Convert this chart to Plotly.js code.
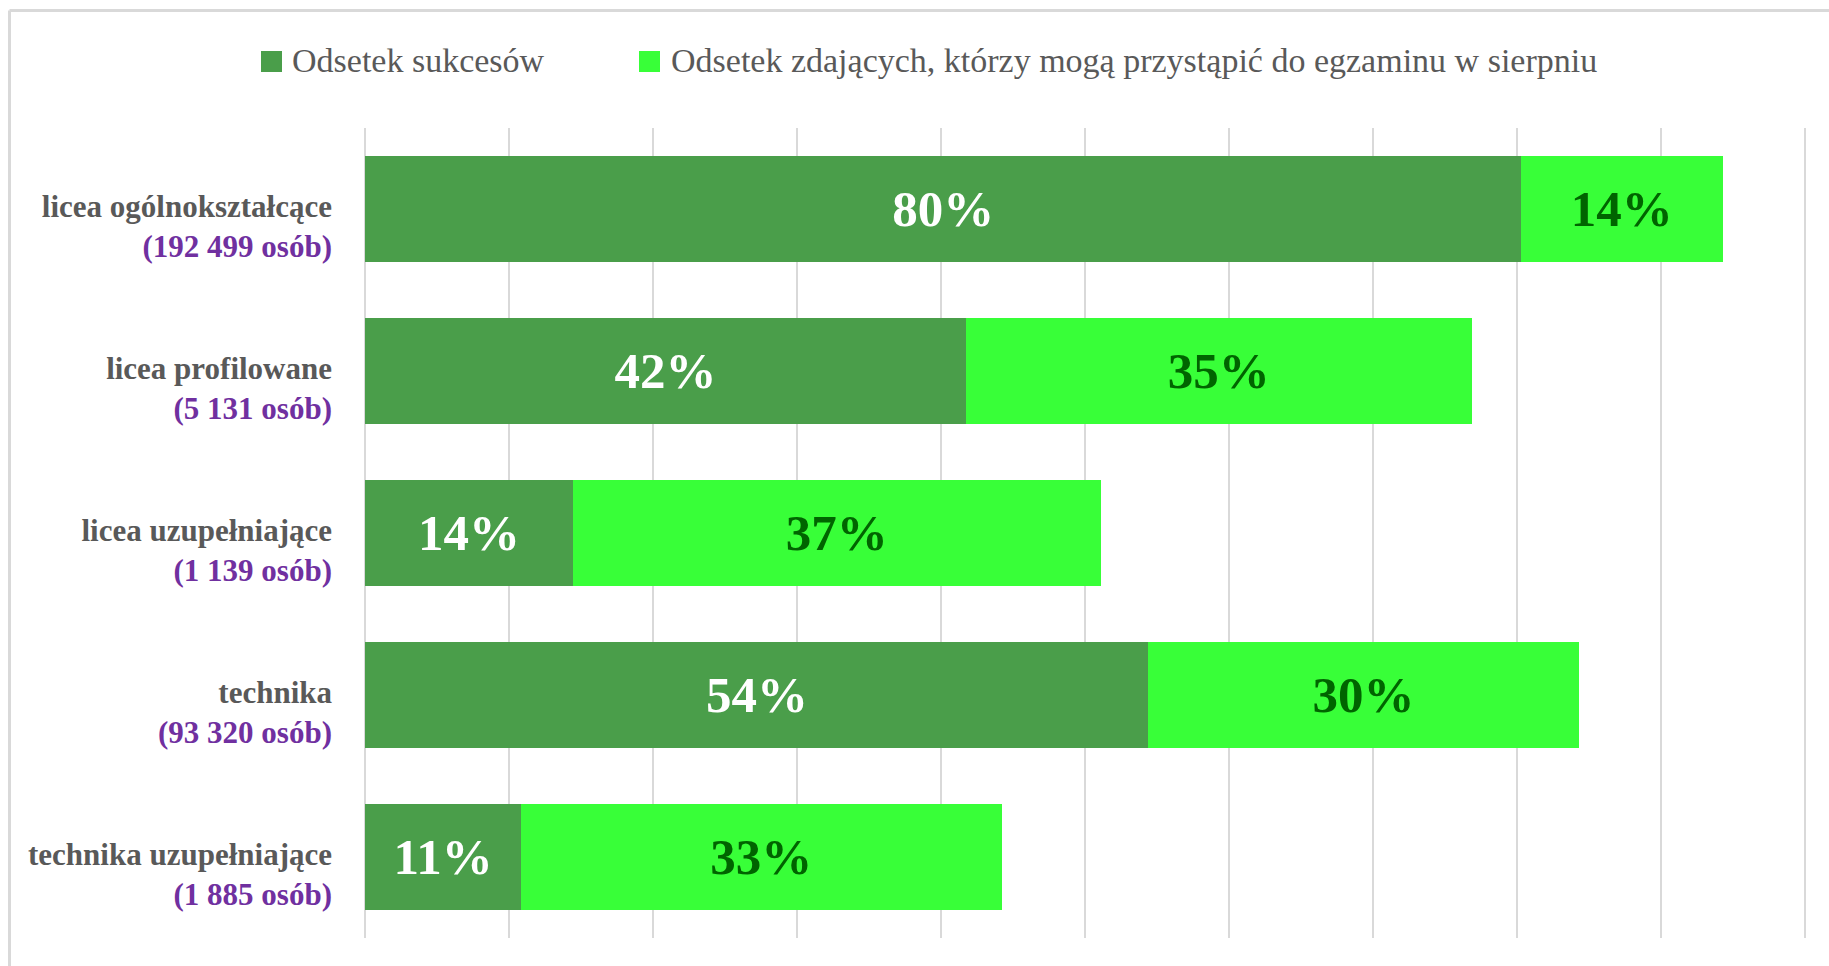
<!DOCTYPE html>
<html>
<head>
<meta charset="utf-8">
<script src="https://cdn.plot.ly/plotly-3.0.1.min.js"></script>
<style>html,body{margin:0;padding:0;background:#fff;}#chart{width:1829px;height:966px;}</style>
</head>
<body>
<div id="chart"></div>
<script>
// ---- data ----
const categories = ['licea ogólnokształcące', 'licea profilowane', 'licea uzupełniające', 'technika', 'technika uzupełniające'];
const counts = ['192 499 osób', '5 131 osób', '1 139 osób', '93 320 osób', '1 885 osób'];
const seriesNames = ['Odsetek sukcesów', 'Odsetek zdających, którzy mogą przystąpić do egzaminu w sierpniu'];
const successPct = [80.3, 41.7, 14.4, 54.4, 10.8];
const augustPct = [14.0, 35.2, 36.7, 29.9, 33.4];
const xTicks = [0, 10, 20, 30, 40, 50, 60, 70, 80, 90, 100];

// ---- style ----
const W = 1829, H = 966;
const M = {l: 364, r: 23, t: 128, b: 28};
const colors = ['#4a9e4a', '#38ff38'];
const labelColors = ['#ffffff', '#006400'];
const FONT = '"Liberation Serif", "Times New Roman", serif';

const plotW = W - M.l - M.r, plotH = H - M.t - M.b;
const px = x => (x - M.l) / plotW;
const py = y => (H - M.b - y) / plotH;

const tickText = categories.map((c, i) =>
  '<b>' + c + '</b><br><b><span style="color:#7030a0">(' + counts[i] + ')</span></b>');

const seriesData = [successPct, augustPct];
const traces = seriesData.map((vals, k) => ({
  type: 'bar',
  orientation: 'h',
  name: seriesNames[k],
  y: categories,
  x: vals,
  marker: {color: colors[k], line: {width: 0}},
  text: vals.map(v => Math.round(v) + '%'),
  textposition: 'inside',
  insidetextanchor: 'middle',
  constraintext: 'none',
  textfont: {family: FONT, size: 51, color: labelColors[k], weight: 'bold'},
  hoverinfo: 'x+y',
  showlegend: false
}));

// custom legend (squares + text)
const legendItems = [
  {sx: 261, tx: 292},
  {sx: 639, tx: 671}
];
const shapes = [];
const annotations = [];
legendItems.forEach((it, k) => {
  shapes.push({
    type: 'rect', xref: 'paper', yref: 'paper',
    x0: px(it.sx), x1: px(it.sx + 21), y0: py(72), y1: py(51),
    fillcolor: colors[k], line: {width: 0}
  });
  annotations.push({
    xref: 'paper', yref: 'paper', x: px(it.tx - 2), y: py(60),
    xanchor: 'left', yanchor: 'middle', showarrow: false,
    text: seriesNames[k],
    font: {family: FONT, size: 34, color: '#595959'}
  });
});
// outer frame (top and left edges visible)
shapes.push({type: 'line', xref: 'paper', yref: 'paper', x0: px(9.5), x1: px(W + 5), y0: py(10.5), y1: py(10.5), line: {color: '#d9d9d9', width: 3}});
shapes.push({type: 'line', xref: 'paper', yref: 'paper', x0: px(9.5), x1: px(9.5), y0: py(10.5), y1: py(H + 5), line: {color: '#d9d9d9', width: 3}});

const layout = {
  width: W, height: H,
  margin: M,
  paper_bgcolor: '#ffffff',
  plot_bgcolor: '#ffffff',
  barmode: 'stack',
  bargap: 0.35,
  showlegend: false,
  font: {family: FONT},
  xaxis: {
    range: [-0.1, 100.1],
    tickvals: xTicks,
    showticklabels: false,
    showgrid: true,
    gridcolor: '#d9d9d9',
    gridwidth: 2,
    zeroline: false,
    showline: false,
    ticks: '',
    fixedrange: true
  },
  yaxis: {
    type: 'category',
    autorange: 'reversed',
    tickvals: categories,
    ticktext: tickText,
    ticks: '',
    showgrid: false,
    zeroline: false,
    showline: false,
    ticklabelstandoff: 31,
    ticklabelshift: -17,
    tickfont: {family: FONT, size: 31, color: '#595959'},
    fixedrange: true
  },
  shapes: shapes,
  annotations: annotations
};

Plotly.newPlot('chart', traces, layout, {displayModeBar: false, responsive: false});
</script>
</body>
</html>
